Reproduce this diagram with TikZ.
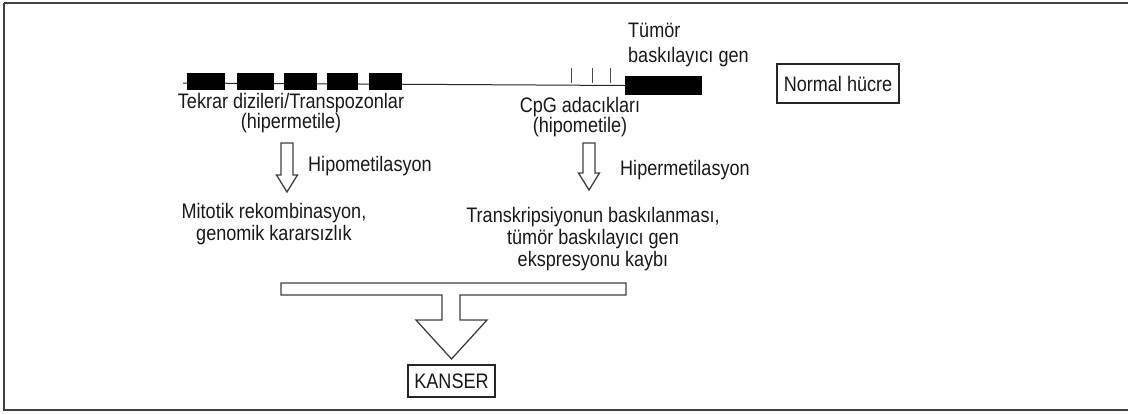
\documentclass[tikz,border=0pt]{standalone}
\usepackage{fontspec}
\setmainfont{Liberation Sans}[FakeStretch=0.86]
\usepackage{tikz}
\usetikzlibrary{positioning,calc}

% hollow arrow pointing down: x, top of shaft, tip
\newcommand{\blockdown}[3]{%
  \draw[blockline] (#1-6,#2) -- (#1+6,#2) -- (#1+6,#3-17) -- (#1+10.5,#3-17)
    -- (#1,#3) -- (#1-10.5,#3-17) -- (#1-6,#3-17) -- cycle;}

\begin{document}
\begin{tikzpicture}[x=1pt, y=-1pt,
                    txt/.style={font=\fontsize{21}{22}\selectfont,
                    inner sep=0pt, align=center, text=black!90},
                    rep/.style={fill=black, draw=black, inner sep=0pt,
                    minimum width=#1, minimum height=16},
                    labelbox/.style={draw=black!85, line width=1.2pt,
                    inner sep=0pt, txt},
                    blockline/.style={draw=black!75, line width=1.3pt,
                    fill=white, line join=miter},
                    tick/.style={draw=black!70, line width=0.8pt}]
    \useasboundingbox (0,0) rectangle (1128,413);
    \draw[draw=black!75, line width=1.8pt] (4,3) -- (1140,3)
        (4,3) -- (4,410) -- (1140,410);

    % chromosome with repeats and gene
    \coordinate (lstart) at (183,83);
    \node[fill=black, inner sep=0pt, minimum width=77, minimum height=19]
        (gene) at (663.5,85.5) {};
    \draw[black!85, line width=1pt] (lstart) -- (gene.west);
    \node[rep=37] (rep1) at (205.5,81) {};
    \node[rep=36] (rep2) at (255,81) {};
    \node[rep=32] (rep3) at (300,81) {};
    \node[rep=30] (rep4) at (342,81) {};
    \node[rep=32] (rep5) at (385,81) {};
    \foreach \tx in {571,592,610}
        \draw[tick] (\tx,68) -- (\tx,83);

    \node[txt, align=left, anchor=west, font=\fontsize{21}{25}\selectfont]
        (tsg) at (628,44.5) {Tümör\\baskılayıcı gen};
    \node[labelbox, minimum width=122, minimum height=39]
        (normal) at (838,83.5) {Normal hücre};
    \node[txt, font=\fontsize{21}{20}\selectfont] (repeats) at (291,113)
        {Tekrar dizileri/Transpozonlar\\(hipermetile)};
    \node[txt, font=\fontsize{21}{20}\selectfont] (cpg) at (580,117)
        {CpG adacıkları\\(hipometile)};

    % methylation changes
    \blockdown{287}{143}{192}
    \node[txt, anchor=west] (hypo) at (308,166) {Hipometilasyon};
    \blockdown{589}{143}{190}
    \node[txt, anchor=west] (hyper) at (620,170) {Hipermetilasyon};

    \node[txt] (mitotic) at (274,224)
        {Mitotik rekombinasyon,\\genomik kararsızlık};
    \node[txt] (silence) at (593,239)
        {Transkripsiyonun baskılanması,\\tümör baskılayıcı gen\\ekspresyonu kaybı};

    % both lead to cancer
    \node[labelbox, minimum width=87, minimum height=32]
        (cancer) at (451.5,381) {KANSER};
    \draw[blockline] (281,283) -- (626,283) -- (626,295) -- (460,295)
        -- (460,320) -- (487,320) -- (cancer.north |- 0,359) -- (416,320)
        -- (442,320) -- (442,295) -- (281,295) -- cycle;
\end{tikzpicture}
\end{document}
